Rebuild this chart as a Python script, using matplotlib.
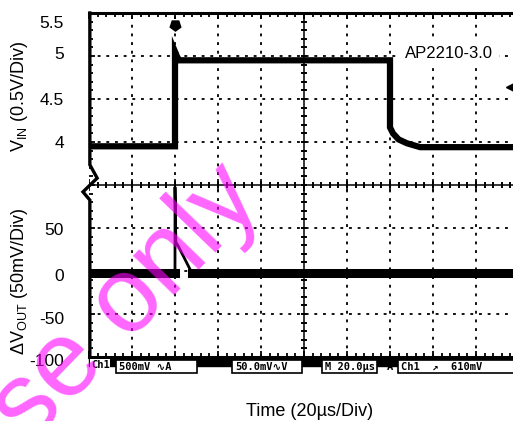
import numpy as np
import matplotlib
matplotlib.use("Agg")
import matplotlib.pyplot as plt
from matplotlib.patches import Rectangle

plt.rcParams['font.family'] = ['Liberation Sans', 'DejaVu Sans']
plt.rcParams['mathtext.default'] = 'regular'

# scope traces (time in us, VIN in V, delta VOUT in mV)
time_vin = [0, 40, 40, 41, 42, 140, 140, 141.4, 144, 147.9, 154, 200]
vin = [4.0, 4.0, 5.1, 5.04, 5.0, 5.0, 4.22, 4.15, 4.08, 4.035, 3.99, 3.99]

time_vout = [0, 40, 40, 40.4, 41.4, 47.9, 200]
dvout = [0, 0, 100, 36, 32, 0, 0]

# axis labels as printed on the screen shot (label, value where it sits)
vin_labels = ['5.5', '5', '4.5', '4']
vin_label_pos = [5.43, 5.07, 4.53, 4.03]
vout_labels = ['50', '0', '-50', '-100']
vout_label_pos = [50, -4, -54, -103]

fig = plt.figure(figsize=(5.13, 4.21), dpi=100)
rect = [89/513, 64/421, 430/513, 344/421]

# screen grid in divisions
ax = fig.add_axes(rect)
ax.set_xlim(0, 10)
ax.set_ylim(0, 8)
for k in range(1, 10):
    if k != 5:
        ax.axvline(k, color='k', lw=1.3, ls=(0, (1.6, 3.2)), zorder=1)
for k in range(1, 8):
    if k != 4:
        ax.axhline(k, color='k', lw=1.3, ls=(0, (1.6, 3.2)), zorder=1)
ax.axvline(5, color='k', lw=1.1, zorder=1)
ax.axhline(4, color='k', lw=1.1, zorder=1)

xm = np.arange(0, 10.01, 0.2)
ym = np.arange(0, 8.01, 0.2)
ax.plot(xm, np.full(len(xm), 4.0), ls='none', marker='|', ms=5, mew=1.4, color='k')
ax.plot(np.arange(11), np.full(11, 4.0), ls='none', marker='|', ms=9, mew=1.2, color='k')
ax.plot(np.full(len(ym), 5.0), ym, ls='none', marker='_', ms=5, mew=1.4, color='k')

ax.set_xticks(range(11))
ax.set_xticks(xm, minor=True)
ax.set_yticks(range(9))
ax.set_yticks(ym, minor=True)
ax.tick_params(which='both', direction='in', top=True, bottom=True, left=True,
               right=False, labelbottom=False, labelleft=False, width=1.3)
ax.tick_params(which='major', length=4)
ax.tick_params(which='minor', length=3)
for s in ['top', 'bottom']:
    ax.spines[s].set_linewidth(2.2)
ax.spines['right'].set_visible(False)
ax.spines['left'].set_visible(False)

# left border with the channel marker kink
ax.plot([0.02, 0.02, 0.19, -0.14, 0.02, 0.02], [8, 4.47, 4.16, 3.84, 3.65, 0],
        color='k', lw=2.4, clip_on=False, solid_joinstyle='miter')

# trigger position and level markers
ax.plot([2.0], [7.72], marker=(5, 0, 180), ms=8, color='k', clip_on=False)
ax.plot([9.84], [6.28], marker='<', ms=8, color='k', clip_on=False)

# VIN channel
av = fig.add_axes(rect, facecolor='none')
av.set_xlim(0, 200)
av.set_ylim(1.55, 5.55)
av.axis('off')
av.plot(time_vin, vin, color='k', lw=4.5, solid_joinstyle='miter')

# delta VOUT channel: fast transient thin, noisy baseline thick
ao = fig.add_axes(rect, facecolor='none')
ao.set_xlim(0, 200)
ao.set_ylim(-97.5, 302.5)
ao.axis('off')
ao.plot(time_vout, dvout, color='k', lw=2.0)
base = np.where(np.abs(dvout) < 1, dvout, np.nan)
ao.plot(time_vout, base, color='k', lw=6.5)

for lab, v in zip(vin_labels, vin_label_pos):
    av.text(-0.058, v, lab, transform=av.get_yaxis_transform(), ha='right',
            va='center', fontsize=12.5)
for lab, v in zip(vout_labels, vout_label_pos):
    ao.text(-0.058, v, lab, transform=ao.get_yaxis_transform(), ha='right',
            va='center', fontsize=12.5, clip_on=False)

fig.text(20/513, 1 - 96/421, r'V$_{IN}$ (0.5V/Div)', rotation=90,
         ha='center', va='center', fontsize=13)
fig.text(20/513, 1 - 281/421, r'$\Delta$V$_{OUT}$ (50mV/Div)', rotation=90,
         ha='center', va='center', fontsize=13)
fig.text(310/513, 1 - 412/421, 'Time (20\u00b5s/Div)', ha='center', va='center',
         fontsize=13)
fig.text(449/513, 1 - 53/421, 'AP2210-3.0', ha='center', va='center', fontsize=12,
         bbox=dict(facecolor='white', edgecolor='none', pad=4), zorder=5)

# status bar of the scope, in pixels
ov = fig.add_axes([0, 0, 1, 1], facecolor='none')
ov.set_xlim(0, 513)
ov.set_ylim(421, 0)
ov.axis('off')
ov.add_patch(Rectangle((89, 358), 424, 8, color='k'))
mono = ['DejaVu Sans Mono', 'DejaVu Sans']
boxes = [(116, 197, '500mV \u223fA'), (232, 302, '50.0mV\u223fV'),
         (322, 377, 'M 20.0\u00b5s'), (398, 520, 'Ch1  \u2197  610mV')]
for x0, x1, s in boxes:
    ov.add_patch(Rectangle((x0, 360), x1 - x0, 13, facecolor='white',
                           edgecolor='k', lw=1.2))
    ov.text(x0 + 3, 367, s, ha='left', va='center', fontsize=7.5,
            family=mono, weight='bold')
ov.text(91, 365, 'Ch1', ha='left', va='center', fontsize=7.5,
        family=mono, weight='bold', color='k',
        bbox=dict(facecolor='white', edgecolor='none', pad=0.5))
ov.text(387, 367, 'A', ha='left', va='center', fontsize=7.5,
        family=mono, weight='bold')

# watermark
ov.text(127, 304, 'se only', rotation=46, ha='center', va='center',
        rotation_mode='anchor', fontsize=77, color=(1, 0, 1), alpha=0.6,
        zorder=10)

fig.savefig('out.png', dpi=100)
